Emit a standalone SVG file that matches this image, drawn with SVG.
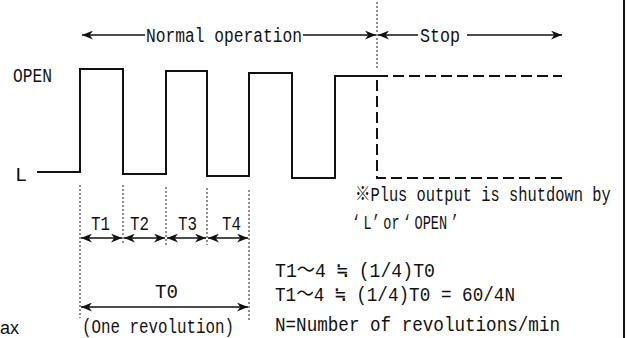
<svg xmlns="http://www.w3.org/2000/svg" width="628" height="338" viewBox="0 0 628 338">
<style>
.t{font-family:"Liberation Mono","Noto Sans CJK JP",monospace;font-size:20px;fill:#111}
.w{fill:none;stroke:#111;stroke-width:2}
.dash{fill:none;stroke:#111;stroke-width:2;stroke-dasharray:11,5}
.dot{fill:none;stroke:#444;stroke-width:1.2;stroke-dasharray:2,2}
.ar{fill:none;stroke:#111;stroke-width:1.5;marker-end:url(#ah)}
.ar2{fill:none;stroke:#111;stroke-width:1.5;marker-start:url(#ah);marker-end:url(#ah)}
</style>
<defs>
<marker id="ah" viewBox="0 0 10 8" refX="10" refY="4" markerWidth="11" markerHeight="9" markerUnits="userSpaceOnUse" orient="auto-start-reverse">
<path d="M0,0 L10,4 L0,8 L3,4 z" fill="#111"/>
</marker>
</defs>
<rect width="628" height="338" fill="#fff"/>
<line x1="624" y1="0" x2="624" y2="338" stroke="#111" stroke-width="2"/>
<g id="waveform">
<path class="w" d="M37,172 L80,172 L80,69 L123,69 L123,174 L166,174 L166,71 L207,71 L207,176 L249,176 L249,73 L292,73 L292,178 L335,178 L335,76 L377,76"/>
<path class="dash" d="M377,76 L562,76"/>
<path class="dash" d="M377,80 L377,178 L562,178"/>
</g>
<g id="guides">
<line class="dot" x1="377" y1="2" x2="377" y2="68"/>
<line class="dot" x1="80" y1="185" x2="80" y2="318"/>
<line class="dot" x1="123" y1="185" x2="123" y2="245"/>
<line class="dot" x1="166" y1="187" x2="166" y2="245"/>
<line class="dot" x1="207" y1="188" x2="207" y2="245"/>
<line class="dot" x1="249" y1="190" x2="249" y2="320"/>
</g>
<g id="connectors">
<line class="ar" x1="145" y1="35" x2="82" y2="35"/>
<line class="ar" x1="303" y1="35" x2="376" y2="35"/>
<line class="ar" x1="418" y1="35" x2="378" y2="35"/>
<line class="ar" x1="467" y1="35" x2="562" y2="35"/>
<line class="ar2" x1="81" y1="238" x2="122" y2="238"/>
<line class="ar2" x1="124" y1="238" x2="165" y2="238"/>
<line class="ar2" x1="167" y1="238" x2="206" y2="238"/>
<line class="ar2" x1="208" y1="238" x2="248" y2="238"/>
<line class="ar2" x1="81" y1="307" x2="248" y2="307"/>
</g>
<g id="labels">
<text class="t" x="146" y="42" textLength="156" lengthAdjust="spacingAndGlyphs">Normal operation</text>
<text class="t" x="420" y="42" textLength="40" lengthAdjust="spacingAndGlyphs">Stop</text>
<text class="t" x="13" y="82" textLength="39" lengthAdjust="spacingAndGlyphs">OPEN</text>
<text class="t" x="15" y="181">L</text>
<text class="t" x="91" y="230" textLength="19" lengthAdjust="spacingAndGlyphs">T1</text>
<text class="t" x="130" y="230" textLength="19" lengthAdjust="spacingAndGlyphs">T2</text>
<text class="t" x="178" y="230" textLength="19" lengthAdjust="spacingAndGlyphs">T3</text>
<text class="t" x="222" y="230" textLength="19" lengthAdjust="spacingAndGlyphs">T4</text>
<text class="t" x="155" y="298" textLength="23" lengthAdjust="spacingAndGlyphs">T0</text>
<text class="t" x="82" y="333" textLength="152" lengthAdjust="spacingAndGlyphs">(One revolution)</text>
<text class="t" transform="translate(355,201) scale(0.77,1)" x="0" y="0" textLength="332" lengthAdjust="spacingAndGlyphs">※Plus output is shutdown by</text>
<text font-family="Liberation Mono,monospace" font-size="20" fill="#111" word-spacing="-7" transform="translate(352,229) scale(0.68,1)" x="0" y="0">‘ L’ or ‘ OPEN ’</text>
<text class="t" x="275" y="277" textLength="160" lengthAdjust="spacingAndGlyphs">T1〜4 ≒ (1/4)T0</text>
<text class="t" x="275" y="301" textLength="240" lengthAdjust="spacingAndGlyphs">T1〜4 ≒ (1/4)T0 = 60/4N</text>
<text class="t" x="275" y="331" textLength="285" lengthAdjust="spacingAndGlyphs">N=Number of revolutions/min</text>
<text x="0" y="334" font-family="Liberation Sans,Arial,sans-serif" font-size="18" fill="#111">ax</text>
</g>
</svg>
